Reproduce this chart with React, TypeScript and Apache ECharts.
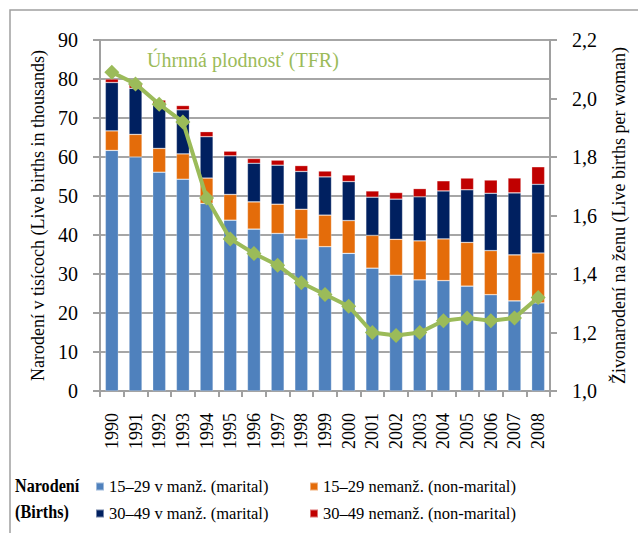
import React, { useEffect, useRef } from "react";
import * as echarts from "echarts";

const years = ["1990","1991","1992","1993","1994","1995","1996","1997","1998","1999","2000","2001","2002","2003","2004","2005","2006","2007","2008"];
const marital1529 = [61.7, 60.0, 56.1, 54.3, 48.1, 43.8, 41.5, 40.4, 39.0, 37.0, 35.3, 31.5, 29.7, 28.5, 28.3, 26.9, 24.7, 23.1, 22.6];
const nonMarital1529 = [5.0, 5.8, 6.1, 6.5, 6.5, 6.6, 7.0, 7.5, 7.6, 8.1, 8.4, 8.4, 9.2, 10.0, 10.7, 11.2, 11.3, 11.8, 12.8];
const marital3049 = [12.4, 11.8, 11.3, 11.3, 10.6, 9.9, 9.9, 10.0, 9.7, 9.8, 10.0, 9.8, 10.3, 11.3, 12.3, 13.5, 14.7, 15.9, 17.6];
const nonMarital3049 = [0.9, 1.0, 1.1, 1.1, 1.3, 1.2, 1.2, 1.3, 1.5, 1.5, 1.7, 1.6, 1.7, 2.1, 2.6, 3.0, 3.4, 3.8, 4.5];
const tfr = [2.09, 2.05, 1.98, 1.92, 1.66, 1.52, 1.47, 1.43, 1.37, 1.33, 1.29, 1.20, 1.19, 1.20, 1.24, 1.25, 1.24, 1.25, 1.32];

const seriesNames = [
  "15–29 v manž. (marital)",
  "15–29 nemanž. (non-marital)",
  "30–49 v manž. (marital)",
  "30–49 nemanž. (non-marital)",
];
const colors = ["#4F81BD", "#E46C0A", "#002060", "#C00000"];

const FONT = "Liberation Serif, Times New Roman, DejaVu Serif, serif";

export default function App() {
  const ref = useRef<HTMLDivElement>(null);
  useEffect(() => {
    if (!ref.current) return;
    const chart = echarts.init(ref.current, null, { renderer: "svg" });
    const grey = "#A0A0A0";
    const data = [marital1529, nonMarital1529, marital3049, nonMarital3049];
    const barSeries = data.map((d, i) => ({
      name: seriesNames[i],
      type: "bar",
      stack: "births",
      barWidth: "55%",
      data: d,
      itemStyle: { color: colors[i], borderColor: "rgba(255,255,255,0.45)", borderWidth: 0.6 },
    }));
    const legendText = { fontFamily: FONT, fontSize: 16.5, color: "#000" };
    chart.setOption({
      animation: false,
      backgroundColor: "#ffffff",
      textStyle: { fontFamily: FONT },
      grid: { left: 100, right: 88, top: 40, bottom: 142 },
      legend: [
        {
          data: [seriesNames[0], seriesNames[2]],
          orient: "vertical",
          left: 90,
          top: 473,
          itemWidth: 8,
          itemHeight: 8,
          itemGap: 10,
          icon: "rect",
          textStyle: legendText,
        },
        {
          data: [seriesNames[1], seriesNames[3]],
          orient: "vertical",
          left: 304,
          top: 473,
          itemWidth: 8,
          itemHeight: 8,
          itemGap: 10,
          icon: "rect",
          textStyle: legendText,
        },
      ],
      graphic: [
        {
          type: "rect",
          shape: { x: 10, y: 10, width: 700, height: 600 },
          style: { fill: "none", stroke: grey, lineWidth: 1.5 },
          silent: true,
        },
        {
          type: "text",
          left: 147,
          top: 50,
          style: { text: "Úhrnná plodnosť (TFR)", fill: "#9BBB59", fontFamily: FONT, fontSize: 20 },
        },
        {
          type: "text",
          x: 15,
          y: 476,
          scaleX: 0.85,
          style: { text: "Narodení", fill: "#000", fontFamily: FONT, fontSize: 19, fontWeight: "bold" },
        },
        {
          type: "text",
          x: 15,
          y: 502,
          scaleX: 0.85,
          style: { text: "(Births)", fill: "#000", fontFamily: FONT, fontSize: 19, fontWeight: "bold" },
        },
      ],
      xAxis: {
        type: "category",
        data: years,
        axisLine: { lineStyle: { color: grey, width: 2 } },
        axisTick: { show: true, length: 6, lineStyle: { color: grey, width: 2 } },
        axisLabel: { rotate: 90, fontSize: 18, color: "#000", fontFamily: FONT, margin: 22, interval: 0 },
      },
      yAxis: [
        {
          type: "value",
          min: 0,
          max: 90,
          interval: 10,
          name: "Narodení v tisícoch (Live births in thousands)",
          nameLocation: "middle",
          nameGap: 52,
          nameTextStyle: { fontSize: 18, fontFamily: FONT, color: "#000" },
          axisLine: { show: true, lineStyle: { color: grey, width: 2 } },
          axisTick: { show: true, length: 7, lineStyle: { color: grey, width: 2 } },
          axisLabel: { fontSize: 20, color: "#000", fontFamily: FONT, margin: 22 },
          splitLine: { show: true, lineStyle: { color: "#A6A6A6", width: 2 } },
        },
        {
          type: "value",
          min: 1.0,
          max: 2.2,
          interval: 0.2,
          position: "right",
          name: "Živonarodení na ženu (Live births per woman)",
          nameLocation: "middle",
          nameGap: 60,
          nameRotate: 90,
          nameTextStyle: { fontSize: 18, fontFamily: FONT, color: "#000" },
          axisLine: { show: true, lineStyle: { color: grey, width: 2 } },
          axisTick: { show: true, length: 7, lineStyle: { color: grey, width: 2 } },
          axisLabel: {
            fontSize: 20,
            color: "#000",
            fontFamily: FONT,
            margin: 22,
            formatter: (v: number) => v.toFixed(1).replace(".", ","),
          },
          splitLine: { show: false },
        },
      ],
      series: [
        ...barSeries,
        {
          name: "TFR",
          type: "line",
          yAxisIndex: 1,
          data: tfr,
          symbol: "diamond",
          symbolSize: 15,
          lineStyle: { color: "#9BBB59", width: 4 },
          itemStyle: { color: "#9BBB59" },
          z: 10,
        },
      ],
    });
    return () => chart.dispose();
  }, []);
  return <div ref={ref} style={{ position: "fixed", left: 0, top: 0, width: 638, height: 533 }} />;
}
